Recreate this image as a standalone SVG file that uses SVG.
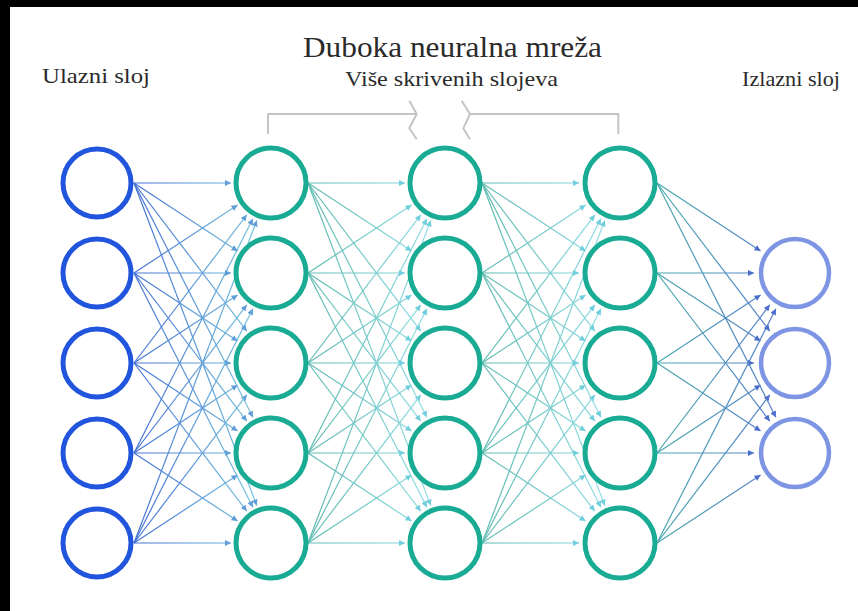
<svg xmlns="http://www.w3.org/2000/svg" width="858" height="611" viewBox="0 0 858 611">
  <style>
    .lbl { fill: #2b2b2b; font-family: "Liberation Serif", "Times New Roman", serif; }
    .e line { stroke-width: 1.2; fill: none; }
    .e1 line { stroke: url(#g1); marker-end: url(#a1); }
    .eh line { stroke: url(#gh); marker-end: url(#ah); }
    .eo line { stroke: url(#go); marker-end: url(#ao); }
    .in circle { fill: #fff; stroke: #2155de; stroke-width: 5; }
    .hid circle { fill: #fff; stroke: #19ab93; stroke-width: 5; }
    .out circle { fill: #fff; stroke: #7e95e4; stroke-width: 4.5; }
    .bracket { fill: none; stroke: #c4c4c4; stroke-width: 2; stroke-linejoin: round; }
  </style>
  <defs>
    <linearGradient id="g1" gradientUnits="userSpaceOnUse" x1="0" y1="0" x2="130" y2="0">
      <stop offset="0" stop-color="#4470d4"/>
      <stop offset="1" stop-color="#7acbde"/>
    </linearGradient>
    <linearGradient id="gh" gradientUnits="userSpaceOnUse" x1="0" y1="0" x2="130" y2="0">
      <stop offset="0" stop-color="#5fbab0"/>
      <stop offset="1" stop-color="#94dfe8"/>
    </linearGradient>
    <linearGradient id="go" gradientUnits="userSpaceOnUse" x1="0" y1="0" x2="130" y2="0">
      <stop offset="0" stop-color="#4aa8ae"/>
      <stop offset="1" stop-color="#587ccf"/>
    </linearGradient>
    <marker id="a1" viewBox="0 0 10 10" refX="10" refY="5" markerWidth="7" markerHeight="6" markerUnits="userSpaceOnUse" orient="auto">
      <path d="M0,0 L10,5 L0,10 z" fill="#5f9ed8"/>
    </marker>
    <marker id="ah" viewBox="0 0 10 10" refX="10" refY="5" markerWidth="7" markerHeight="6" markerUnits="userSpaceOnUse" orient="auto">
      <path d="M0,0 L10,5 L0,10 z" fill="#6fcfdc"/>
    </marker>
    <marker id="ao" viewBox="0 0 10 10" refX="10" refY="5" markerWidth="7" markerHeight="6" markerUnits="userSpaceOnUse" orient="auto">
      <path d="M0,0 L10,5 L0,10 z" fill="#4a6ccc"/>
    </marker>
  </defs>

  <!-- page -->
  <rect x="0" y="0" width="858" height="611" fill="#000"/>
  <rect x="10" y="7" width="848" height="604" fill="#fff"/>

  <!-- titles -->
  <g id="titles">
    <text class="lbl" x="303" y="57" font-size="30" textLength="299" lengthAdjust="spacingAndGlyphs">Duboka neuralna mreža</text>
    <text class="lbl" x="42" y="83" font-size="22" textLength="108" lengthAdjust="spacingAndGlyphs">Ulazni sloj</text>
    <text class="lbl" x="345" y="86" font-size="22" textLength="213" lengthAdjust="spacingAndGlyphs">Više skrivenih slojeva</text>
    <text class="lbl" x="742" y="86" font-size="22" textLength="98" lengthAdjust="spacingAndGlyphs">Izlazni sloj</text>
  </g>

  <!-- bracket over the hidden layers -->
  <g id="hidden-bracket">
    <path class="bracket" d="M268,134 V114 H416.7 M409.3,100.7 L416.7,114 L409.3,128.3 L416.7,139.3"/>
    <path class="bracket" d="M618.3,134 V114 H470 M461.7,100.7 L470,114 L463.3,128.3 L470,139.3"/>
  </g>

  <!-- connectors: each layer pair drawn in a local frame (x=0 at the source edge) -->
  <g id="connectors">
    <g id="edges-input-h1" class="e e1" transform="translate(134 0)">
      <line x1="0" y1="183" x2="97" y2="183"/>
      <line x1="0" y1="273" x2="103.6" y2="205"/>
      <line x1="0" y1="363" x2="112.8" y2="214.8"/>
      <line x1="0" y1="453" x2="118.9" y2="218.7"/>
      <line x1="0" y1="543" x2="122.8" y2="220.4"/>
      <line x1="0" y1="183" x2="103.6" y2="251"/>
      <line x1="0" y1="273" x2="97" y2="273"/>
      <line x1="0" y1="363" x2="103.6" y2="295"/>
      <line x1="0" y1="453" x2="112.8" y2="304.8"/>
      <line x1="0" y1="543" x2="118.9" y2="308.7"/>
      <line x1="0" y1="183" x2="112.8" y2="331.2"/>
      <line x1="0" y1="273" x2="103.6" y2="341"/>
      <line x1="0" y1="363" x2="97" y2="363"/>
      <line x1="0" y1="453" x2="103.6" y2="385"/>
      <line x1="0" y1="543" x2="112.8" y2="394.8"/>
      <line x1="0" y1="183" x2="118.9" y2="417.3"/>
      <line x1="0" y1="273" x2="112.8" y2="421.2"/>
      <line x1="0" y1="363" x2="103.6" y2="431"/>
      <line x1="0" y1="453" x2="97" y2="453"/>
      <line x1="0" y1="543" x2="103.6" y2="475"/>
      <line x1="0" y1="183" x2="122.8" y2="505.6"/>
      <line x1="0" y1="273" x2="118.9" y2="507.3"/>
      <line x1="0" y1="363" x2="112.8" y2="511.2"/>
      <line x1="0" y1="453" x2="103.6" y2="521"/>
      <line x1="0" y1="543" x2="97" y2="543"/>
    </g>
    <g id="edges-h1-h2" class="e eh" transform="translate(308 0)">
      <line x1="0" y1="183" x2="97" y2="183"/>
      <line x1="0" y1="273" x2="103.6" y2="205"/>
      <line x1="0" y1="363" x2="112.8" y2="214.8"/>
      <line x1="0" y1="453" x2="118.9" y2="218.7"/>
      <line x1="0" y1="543" x2="122.8" y2="220.4"/>
      <line x1="0" y1="183" x2="103.6" y2="251"/>
      <line x1="0" y1="273" x2="97" y2="273"/>
      <line x1="0" y1="363" x2="103.6" y2="295"/>
      <line x1="0" y1="453" x2="112.8" y2="304.8"/>
      <line x1="0" y1="543" x2="118.9" y2="308.7"/>
      <line x1="0" y1="183" x2="112.8" y2="331.2"/>
      <line x1="0" y1="273" x2="103.6" y2="341"/>
      <line x1="0" y1="363" x2="97" y2="363"/>
      <line x1="0" y1="453" x2="103.6" y2="385"/>
      <line x1="0" y1="543" x2="112.8" y2="394.8"/>
      <line x1="0" y1="183" x2="118.9" y2="417.3"/>
      <line x1="0" y1="273" x2="112.8" y2="421.2"/>
      <line x1="0" y1="363" x2="103.6" y2="431"/>
      <line x1="0" y1="453" x2="97" y2="453"/>
      <line x1="0" y1="543" x2="103.6" y2="475"/>
      <line x1="0" y1="183" x2="122.8" y2="505.6"/>
      <line x1="0" y1="273" x2="118.9" y2="507.3"/>
      <line x1="0" y1="363" x2="112.8" y2="511.2"/>
      <line x1="0" y1="453" x2="103.6" y2="521"/>
      <line x1="0" y1="543" x2="97" y2="543"/>
    </g>
    <g id="edges-h2-h3" class="e eh" transform="translate(482 0)">
      <line x1="0" y1="183" x2="97" y2="183"/>
      <line x1="0" y1="273" x2="103.6" y2="205"/>
      <line x1="0" y1="363" x2="112.8" y2="214.8"/>
      <line x1="0" y1="453" x2="118.9" y2="218.7"/>
      <line x1="0" y1="543" x2="122.8" y2="220.4"/>
      <line x1="0" y1="183" x2="103.6" y2="251"/>
      <line x1="0" y1="273" x2="97" y2="273"/>
      <line x1="0" y1="363" x2="103.6" y2="295"/>
      <line x1="0" y1="453" x2="112.8" y2="304.8"/>
      <line x1="0" y1="543" x2="118.9" y2="308.7"/>
      <line x1="0" y1="183" x2="112.8" y2="331.2"/>
      <line x1="0" y1="273" x2="103.6" y2="341"/>
      <line x1="0" y1="363" x2="97" y2="363"/>
      <line x1="0" y1="453" x2="103.6" y2="385"/>
      <line x1="0" y1="543" x2="112.8" y2="394.8"/>
      <line x1="0" y1="183" x2="118.9" y2="417.3"/>
      <line x1="0" y1="273" x2="112.8" y2="421.2"/>
      <line x1="0" y1="363" x2="103.6" y2="431"/>
      <line x1="0" y1="453" x2="97" y2="453"/>
      <line x1="0" y1="543" x2="103.6" y2="475"/>
      <line x1="0" y1="183" x2="122.8" y2="505.6"/>
      <line x1="0" y1="273" x2="118.9" y2="507.3"/>
      <line x1="0" y1="363" x2="112.8" y2="511.2"/>
      <line x1="0" y1="453" x2="103.6" y2="521"/>
      <line x1="0" y1="543" x2="97" y2="543"/>
    </g>
    <g id="edges-h3-output" class="e eo" transform="translate(657 0)">
      <line x1="0" y1="183" x2="103.6" y2="251"/>
      <line x1="0" y1="273" x2="97" y2="273"/>
      <line x1="0" y1="363" x2="103.6" y2="295"/>
      <line x1="0" y1="453" x2="112.8" y2="304.8"/>
      <line x1="0" y1="543" x2="118.9" y2="308.7"/>
      <line x1="0" y1="183" x2="112.8" y2="331.2"/>
      <line x1="0" y1="273" x2="103.6" y2="341"/>
      <line x1="0" y1="363" x2="97" y2="363"/>
      <line x1="0" y1="453" x2="103.6" y2="385"/>
      <line x1="0" y1="543" x2="112.8" y2="394.8"/>
      <line x1="0" y1="183" x2="118.9" y2="417.3"/>
      <line x1="0" y1="273" x2="112.8" y2="421.2"/>
      <line x1="0" y1="363" x2="103.6" y2="431"/>
      <line x1="0" y1="453" x2="97" y2="453"/>
      <line x1="0" y1="543" x2="103.6" y2="475"/>
    </g>
  </g>

  <!-- input layer -->
  <g id="input-layer" class="in">
    <g id="in1"><circle cx="97" cy="183" r="34"/></g>
    <g id="in2"><circle cx="97" cy="273" r="34"/></g>
    <g id="in3"><circle cx="97" cy="363" r="34"/></g>
    <g id="in4"><circle cx="97" cy="453" r="34"/></g>
    <g id="in5"><circle cx="97" cy="543" r="34"/></g>
  </g>

  <!-- hidden layers -->
  <g id="hidden-1" class="hid">
    <g id="h1n1"><circle cx="271" cy="183" r="35"/></g>
    <g id="h1n2"><circle cx="271" cy="273" r="35"/></g>
    <g id="h1n3"><circle cx="271" cy="363" r="35"/></g>
    <g id="h1n4"><circle cx="271" cy="453" r="35"/></g>
    <g id="h1n5"><circle cx="271" cy="543" r="35"/></g>
  </g>
  <g id="hidden-2" class="hid">
    <g id="h2n1"><circle cx="445" cy="183" r="35"/></g>
    <g id="h2n2"><circle cx="445" cy="273" r="35"/></g>
    <g id="h2n3"><circle cx="445" cy="363" r="35"/></g>
    <g id="h2n4"><circle cx="445" cy="453" r="35"/></g>
    <g id="h2n5"><circle cx="445" cy="543" r="35"/></g>
  </g>
  <g id="hidden-3" class="hid">
    <g id="h3n1"><circle cx="620" cy="183" r="35"/></g>
    <g id="h3n2"><circle cx="620" cy="273" r="35"/></g>
    <g id="h3n3"><circle cx="620" cy="363" r="35"/></g>
    <g id="h3n4"><circle cx="620" cy="453" r="35"/></g>
    <g id="h3n5"><circle cx="620" cy="543" r="35"/></g>
  </g>

  <!-- output layer -->
  <g id="output-layer" class="out">
    <g id="out1"><circle cx="795" cy="273" r="34"/></g>
    <g id="out2"><circle cx="795" cy="363" r="34"/></g>
    <g id="out3"><circle cx="795" cy="453" r="34"/></g>
  </g>
</svg>
